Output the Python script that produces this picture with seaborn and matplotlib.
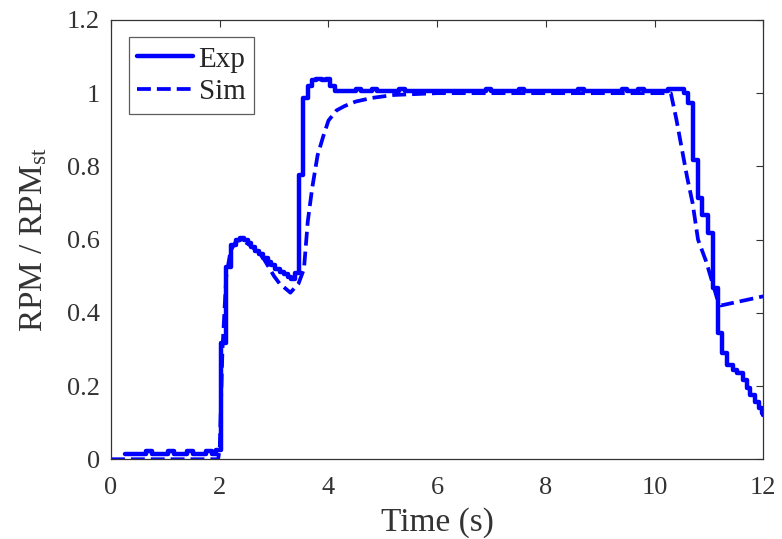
import seaborn as sns
from matplotlib import pyplot as plt
import numpy as np

exp_t = [0.25, 0.65, 0.75, 1.05, 1.15, 1.4, 1.5, 1.75, 1.85, 1.93,
         2.02, 2.12, 2.2, 2.3, 2.38, 2.45, 2.52, 2.58, 2.65, 2.72,
         2.8, 2.88, 2.95, 3.02, 3.1, 3.18, 3.25, 3.32, 3.38, 3.45,
         3.53, 3.62, 3.7, 3.78, 3.88, 3.95, 4.03, 4.12, 4.5, 4.6,
         4.8, 4.9, 5.3, 5.4, 6.9, 7.0, 7.5, 7.6, 8.6, 8.7,
         9.4, 9.5, 9.7, 9.8, 10.25, 10.55, 10.62, 10.7, 10.8, 10.88,
         10.98, 11.08, 11.16, 11.25, 11.34, 11.45, 11.52, 11.62, 11.7, 11.76,
         11.84, 11.92, 11.98, 12.0]
exp_v = [0.015, 0.022, 0.015, 0.022, 0.015, 0.022, 0.015, 0.022, 0.015, 0.026,
         0.317, 0.525, 0.585, 0.6, 0.604, 0.598, 0.59, 0.58, 0.568, 0.56,
         0.55, 0.54, 0.53, 0.52, 0.512, 0.505, 0.498, 0.493, 0.51, 0.776,
         0.986, 1.02, 1.035, 1.04, 1.035, 1.04, 1.02, 1.005, 1.012, 1.005,
         1.012, 1.005, 1.01, 1.005, 1.01, 1.005, 1.01, 1.005, 1.01, 1.005,
         1.01, 1.005, 1.01, 1.005, 1.01, 1.0, 0.973, 0.817, 0.713, 0.667,
         0.617, 0.467, 0.344, 0.29, 0.257, 0.245, 0.235, 0.216, 0.195, 0.175,
         0.156, 0.14, 0.125, 0.12]

# simulation (Sim)
sim_t = [0, 1.97, 2.0, 2.05, 2.12, 2.2, 2.3, 2.4, 2.6, 2.8,
         3.0, 3.1, 3.3, 3.45, 3.55, 3.62, 3.7, 3.8, 3.9, 4.0,
         4.15, 4.3, 4.5, 4.8, 5.2, 6.0, 10.3, 10.4, 10.5, 10.6,
         10.7, 10.8, 10.95, 11.05, 11.15, 11.22, 12.0]
sim_v = [0, 0, 0.03, 0.3, 0.5, 0.57, 0.595, 0.6, 0.58, 0.55,
         0.5, 0.48, 0.455, 0.48, 0.52, 0.65, 0.74, 0.83, 0.88, 0.925,
         0.953, 0.965, 0.977, 0.987, 0.995, 1.0, 1.0, 0.93, 0.85, 0.77,
         0.70, 0.6, 0.54, 0.49, 0.44, 0.42, 0.445]

sns.set_style('white')
plt.rcParams['font.family'] = ['Liberation Serif', 'DejaVu Serif']
plt.rcParams['mathtext.fontset'] = 'custom'
plt.rcParams['mathtext.rm'] = 'Liberation Serif'
plt.rcParams['mathtext.it'] = 'Liberation Serif:italic'

fig = plt.figure(figsize=(7.82, 5.39), dpi=100)
ax = fig.add_axes([0.142, 0.148, 0.834, 0.815])

sns.lineplot(x=exp_t, y=exp_v, ax=ax, color='#0000ff', lw=3.2,
             drawstyle='steps-post', estimator=None, sort=False, label='Exp')
sns.lineplot(x=sim_t, y=sim_v, ax=ax, color='#0000ff', lw=2.7,
             linestyle='--', estimator=None, sort=False, label='Sim')

ax.set_xlim(0, 12)
ax.set_ylim(0, 1.2)
ax.set_xticks(np.arange(0, 13, 2))
ax.set_yticks([0, 0.2, 0.4, 0.6, 0.8, 1.0, 1.2])
ax.set_yticklabels(['0', '0.2', '0.4', '0.6', '0.8', '1', '1.2'])
ax.tick_params(direction='in', length=5, width=0.8, top=True, right=True,
               labelsize=19, colors='#333333')
ax.tick_params(axis='x', pad=13)
ax.tick_params(axis='y', pad=8)
for s in ax.spines.values():
    s.set_visible(True)
    s.set_color('#333333')
    s.set_linewidth(0.9)

ax.set_xlabel('Time (s)', fontsize=24, color='#333333', labelpad=6)
ax.set_ylabel(r'RPM / RPM$_{\rm st}$', fontsize=24, color='#333333', labelpad=13)

leg = ax.legend(loc='upper left', fontsize=21, frameon=True, fancybox=False,
                edgecolor='#333333', handlelength=1.9, handletextpad=0.2,
                borderpad=0.3, labelspacing=0.2, borderaxespad=0.6)
leg.get_frame().set_linewidth(0.9)

fig.savefig('out.png', dpi=100)
